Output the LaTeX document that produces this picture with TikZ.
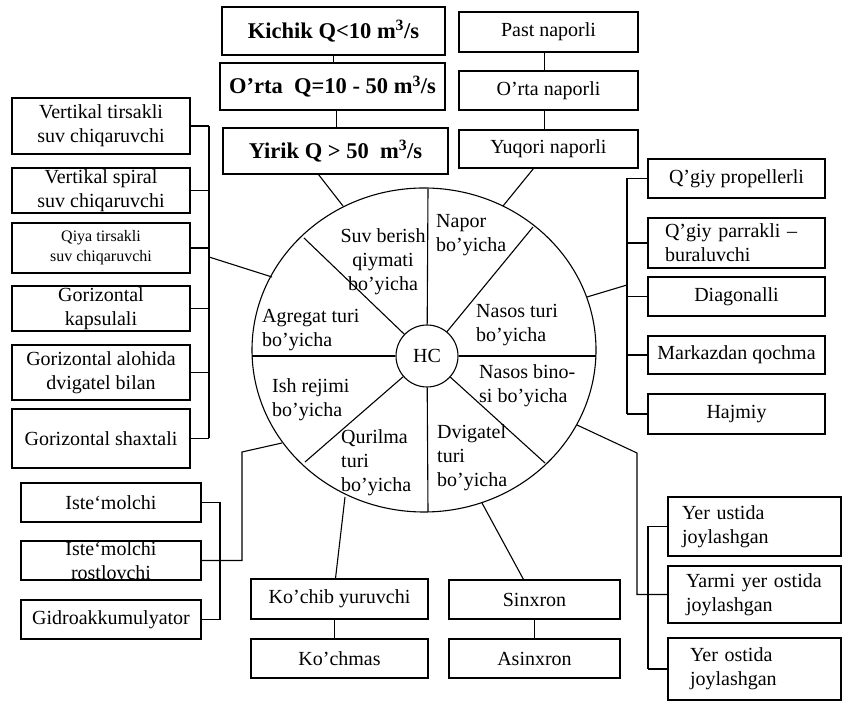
\documentclass[tikz,border=0pt]{standalone}
\usepackage{fontspec}
\setmainfont{Liberation Serif}

\tikzset{
	wire/.style={line width=1.1pt},
	box/.style={draw, wire, inner sep=0pt, align=center, font=\fontsize{20}{24}\selectfont},
	bigbox/.style={box, font=\fontsize{22.5}{26}\selectfont\bfseries},
	sector/.style={inner sep=0pt, align=left, anchor=west, font=\fontsize{20}{24}\selectfont}
}

\begin{document}
\begin{tikzpicture}[x=1pt, y=1pt]
	\useasboundingbox (0,0) rectangle (843,701);
	% wheel with eight sectors
	\coordinate (wc) at (424,351);
	\draw[wire] (wc) ellipse [x radius=172, y radius=162];
	\node[draw, wire, circle, minimum size=62, inner sep=0pt, font=\fontsize{20}{24}\selectfont] (hub) at (427,345) {HC};
	\foreach \p in {(428,512), (533,474), (596,345), (545,238), (428,189), (305,239), (252,345), (304,463)} {
		\draw[wire] (hub) -- \p;
	}
	\node[sector, align=center, anchor=center] (suv) at (383,439) {Suv berish\\qiymati\\bo’yicha};
	\node[sector] (napor) at (436,466) {Napor\\bo’yicha};
	\node[sector] (nasos) at (476,376) {Nasos turi\\bo’yicha};
	\node[sector] (bino) at (479,315) {Nasos bino-\\si bo’yicha};
	\node[sector] (dvig) at (437,243) {Dvigatel\\turi\\bo’yicha};
	\node[sector] (quril) at (341,238) {Qurilma\\turi\\bo’yicha};
	\node[sector] (ish) at (272,301) {Ish rejimi\\bo’yicha};
	\node[sector] (agr) at (262,371) {Agregat turi\\bo’yicha};
	% points on the rim
	\coordinate (wtl) at (343,495);
	\coordinate (wtr) at (503,495);
	\coordinate (wl) at (272,424);
	\coordinate (wr) at (587,404);
	\coordinate (wbr) at (577,276);
	\coordinate (wbl) at (282,258);
	\coordinate (wb1) at (345,204);
	\coordinate (wb2) at (482,198);
	% water flow boxes
	\node[bigbox, minimum width=223, minimum height=48] (kichik) at (333.5,670) {Kichik Q<10 m\textsuperscript{3}/s};
	\node[bigbox, minimum width=225, minimum height=47] (orta) at (332.5,614.5) {O'rta\ \ Q=10 - 50 m\textsuperscript{3}/s};
	\node[bigbox, minimum width=225, minimum height=46] (yirik) at (335.5,550) {Yirik Q > 50\ \ m\textsuperscript{3}/s};
	\draw[wire] (kichik.south) -- (kichik.south |- orta.north);
	\draw[wire] ([xshift=4]orta.south) -- ([xshift=4]orta.south |- yirik.north);
	\draw[wire] ([xshift=-17]yirik.south) -- (wtl);
	% head boxes
	\node[box, minimum width=179, minimum height=40] (past) at (548.5,669) {Past naporli};
	\node[box, minimum width=179, minimum height=39] (ortanap) at (548.5,610.5) {O’rta naporli};
	\node[box, minimum width=179, minimum height=38] (yuqori) at (548.5,552) {Yuqori naporli};
	\draw[wire] ([xshift=-4]past.south) -- ([xshift=-4]ortanap.north);
	\draw[wire] ([xshift=-4]ortanap.south) -- ([xshift=-4]yuqori.north);
	\draw[wire] ([xshift=-15]yuqori.south) -- (wtr);
	% unit type boxes
	\node[box, minimum width=178, minimum height=56] (vt) at (101,575) {Vertikal tirsakli\\suv chiqaruvchi};
	\node[box, minimum width=178, minimum height=45] (vs) at (101,510.5) {Vertikal spiral\\suv chiqaruvchi};
	\node[box, minimum width=178, minimum height=50, font=\fontsize{16}{20}\selectfont] (qt) at (101,453) {Qiya tirsakli\\suv chiqaruvchi};
	\node[box, minimum width=178, minimum height=45] (gk) at (101,392.5) {Gorizontal\\kapsulali};
	\node[box, minimum width=178, minimum height=55] (ga) at (101,328.5) {Gorizontal alohida\\dvigatel bilan};
	\node[box, minimum width=178, minimum height=59] (gs) at (101,262.5) {Gorizontal shaxtali};
	\coordinate (lbus) at (209,444);
	\foreach \n in {vt, vs, qt, gk, ga, gs} {
		\draw[wire] (\n.east) -- (\n.east -| lbus);
	}
	\draw[wire] (vt.east -| lbus) -- (gs.east -| lbus);
	\draw[wire] (lbus) -- (wl);
	% pump type boxes
	\node[box, minimum width=177, minimum height=39] (qp) at (736.5,522.5) {Q’giy propellerli};
	\node[box, minimum height=50, text width=143, inner xsep=17, align=left] (qb) at (736.5,458) {Q’giy parrakli –\\buraluvchi};
	\node[box, minimum width=177, minimum height=39] (dg) at (736.5,404.5) {Diagonalli};
	\node[box, minimum width=177, minimum height=38] (mq) at (736.5,346) {Markazdan qochma};
	\node[box, minimum width=177, minimum height=40] (hj) at (736.5,287) {Hajmiy};
	\coordinate (rbus) at (627,416);
	\foreach \n in {qp, qb, dg, mq, hj} {
		\draw[wire] (\n.west) -- (\n.west -| rbus);
	}
	\draw[wire] (qp.west -| rbus) -- (hj.west -| rbus);
	\draw[wire] (wr) -- (rbus);
	% pump house boxes
	\node[box, minimum height=59, text width=145, inner xsep=14, align=left] (yu) at (754.5,174.5) {Yer ustida\\joylashgan};
	\node[box, minimum height=57, text width=137, inner xsep=18, align=left] (ym) at (754.5,106.5) {Yarmi yer ostida\\joylashgan};
	\node[box, minimum height=62, text width=129, inner xsep=22, align=left] (yo) at (754.5,32) {Yer ostida\\joylashgan};
	\coordinate (bbus) at (648,100);
	\foreach \n in {yu, ym, yo} {
		\draw[wire] (\n.west) -- (\n.west -| bbus);
	}
	\draw[wire] (yu.west -| bbus) -- (yo.west -| bbus);
	\draw[wire] (wbr) -- (637,248) |- (ym.west);
	% installation and motor boxes
	\node[box, minimum width=177, minimum height=40] (kc) at (339.5,102) {Ko’chib yuruvchi};
	\node[box, minimum width=177, minimum height=39] (km) at (339.5,42.5) {Ko’chmas};
	\node[box, minimum width=171, minimum height=39] (sx) at (534.5,101.5) {Sinxron};
	\node[box, minimum width=171, minimum height=39] (as) at (534.5,42.5) {Asinxron};
	\draw[wire] ([xshift=-5]kc.south) -- ([xshift=-5]km.north);
	\draw[wire] (sx) -- (as);
	\draw[wire] (wb1) -- ([xshift=-4]kc.north);
	\draw[wire] (wb2) -- ([xshift=-11]sx.north);
	% operating mode boxes
	\node[box, minimum width=180, minimum height=39] (im) at (111,198.5) {Iste‘molchi};
	\node[box, minimum width=180, minimum height=39] (ir) at (111,140.5) {Iste‘molchi\\rostlovchi};
	\node[box, minimum width=180, minimum height=39] (gd) at (111,81.5) {Gidroakkumulyator};
	\coordinate (mbus) at (220,140);
	\draw[wire] (im.east) -- (im.east -| mbus) -- (gd.east -| mbus) -- (gd.east);
	\draw[wire] (wbl) -- (242,249) |- (ir.east);
\end{tikzpicture}
\end{document}
